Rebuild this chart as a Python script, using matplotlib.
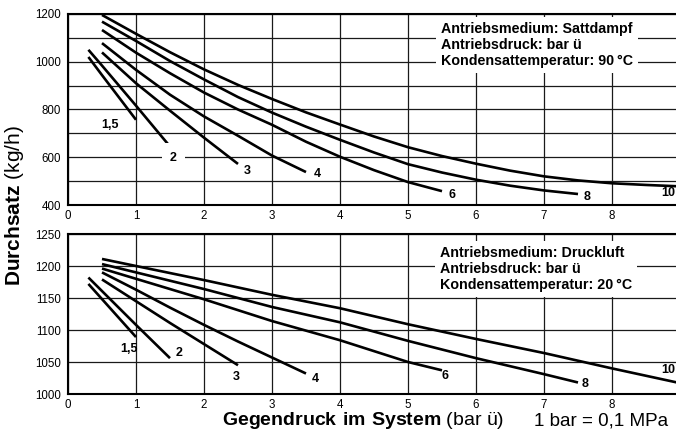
import matplotlib
matplotlib.use("Agg")
import matplotlib.pyplot as plt
from matplotlib.ticker import MultipleLocator

plt.rcParams['font.family'] = ['Liberation Sans', 'DejaVu Sans']
plt.rcParams['mathtext.fontset'] = 'custom'
plt.rcParams['mathtext.rm'] = 'Liberation Sans'
plt.rcParams['mathtext.bf'] = 'Liberation Sans:bold'

# --- Sattdampf (oben), Durchsatz in kg/h ueber Gegendruck in bar
dampf_15_x = [0.3, 0.5, 1.0]
dampf_15_y = [1020, 944, 757]
dampf_2_x = [0.3, 0.5, 1.0, 1.5]
dampf_2_y = [1050, 984, 816, 645]
dampf_3_x = [0.5, 1.0, 1.5, 2.0, 2.5]
dampf_3_y = [1039, 910, 795, 682, 572]
dampf_4_x = [0.5, 1.0, 1.5, 2.0, 2.5, 3.0, 3.5]
dampf_4_y = [1078, 966, 862, 771, 690, 607, 538]
dampf_6_x = [0.5, 1.0, 1.5, 2.0, 2.5, 3.0, 3.5, 4.0, 4.5, 5.0, 5.5]
dampf_6_y = [1133, 1038, 952, 871, 800, 736, 665, 602, 546, 496, 458]
dampf_8_x = [0.5, 1.0, 1.5, 2.0, 2.5, 3.0, 3.5, 4.0, 4.5, 5.0, 5.5, 6.0, 6.5, 7.0, 7.5]
dampf_8_y = [1168, 1087, 1003, 926, 852, 787, 728, 673, 620, 571, 536, 506, 481, 461, 446]
dampf_10_x = [0.5, 1.0, 1.5, 2.0, 2.5, 3.0, 3.5, 4.0, 4.5, 5.0, 5.5, 6.0, 6.5, 7.0, 7.5, 8.0, 8.5, 9.0]
dampf_10_y = [1196, 1117, 1040, 968, 903, 844, 788, 737, 687, 642, 605, 573, 544, 520, 503, 491, 484, 478]

# --- Druckluft (unten)
luft_15_x = [0.3, 1.0]
luft_15_y = [1172, 1089]
luft_2_x = [0.3, 1.0, 1.5]
luft_2_y = [1182, 1108, 1056]
luft_3_x = [0.5, 1.0, 1.5, 2.0, 2.5]
luft_3_y = [1179, 1145, 1111, 1078, 1045]
luft_4_x = [0.5, 1.0, 1.5, 2.0, 2.5, 3.0, 3.5]
luft_4_y = [1190, 1163, 1135, 1108, 1082, 1057, 1032]
luft_6_x = [0.5, 1.0, 2.0, 3.0, 4.0, 5.0, 5.5]
luft_6_y = [1196, 1180, 1148, 1114, 1084, 1050, 1037]
luft_8_x = [0.5, 1.0, 2.0, 3.0, 4.0, 5.0, 6.0, 7.0, 7.5]
luft_8_y = [1203, 1190, 1164, 1136, 1112, 1083, 1056, 1031, 1018]
luft_10_x = [0.5, 1.0, 2.0, 3.0, 4.0, 5.0, 6.0, 7.0, 8.0, 9.0]
luft_10_y = [1211, 1200, 1178, 1155, 1134, 1109, 1086, 1064, 1040, 1017]

curve_names = ["1,5", "2", "3", "4", "6", "8", "10"]
dampf_curves = [(dampf_15_x, dampf_15_y), (dampf_2_x, dampf_2_y), (dampf_3_x, dampf_3_y),
                (dampf_4_x, dampf_4_y), (dampf_6_x, dampf_6_y), (dampf_8_x, dampf_8_y),
                (dampf_10_x, dampf_10_y)]
luft_curves = [(luft_15_x, luft_15_y), (luft_2_x, luft_2_y), (luft_3_x, luft_3_y),
               (luft_4_x, luft_4_y), (luft_6_x, luft_6_y), (luft_8_x, luft_8_y),
               (luft_10_x, luft_10_y)]

dampf_info = "Antriebsmedium: Sattdampf\nAntriebsdruck: bar ü\nKondensattemperatur: 90\u2009°C"
luft_info = "Antriebsmedium: Druckluft\nAntriebsdruck: bar ü\nKondensattemperatur: 20\u2009°C"

W, H = 676, 448
fig = plt.figure(figsize=(W / 100, H / 100), dpi=100)
ax1 = fig.add_axes([68 / W, 1 - 205 / H, 612 / W, 191 / H])
ax2 = fig.add_axes([68 / W, 1 - 394 / H, 612 / W, 160 / H])


def style(ax, ylo, yhi, major, minor):
    ax.set_xlim(0, 9)
    ax.set_ylim(ylo, yhi)
    ax.set_xticks(range(0, 9))
    ax.yaxis.set_major_locator(MultipleLocator(major))
    ax.yaxis.set_minor_locator(MultipleLocator(minor))
    ax.grid(which='both', color='#1a1a1a', lw=0.9)
    ax.set_axisbelow(True)
    ax.tick_params(which='both', length=0, labelsize=8.3)
    ax.tick_params(axis='x', pad=3.5)
    ax.tick_params(axis='y', pad=5)
    for s in ax.spines.values():
        s.set_linewidth(1.5)


style(ax1, 400, 1200, 200, 100)
style(ax2, 1000, 1250, 50, 50)

for x, y in dampf_curves:
    ax1.plot(x, y, color='black', lw=1.9, solid_capstyle='butt')
for x, y in luft_curves:
    ax2.plot(x, y, color='black', lw=1.9, solid_capstyle='butt')

# Kurvenbeschriftungen
lab_kw = dict(fontsize=9, fontweight='bold', ha='center', va='center')
dampf_pos = [(0.62, 735), (1.55, 598), (2.63, 544), (3.66, 530), (5.65, 442), (7.63, 432), (8.83, 449)]
for name, (px, py) in zip(curve_names, dampf_pos):
    if name == "2":
        ax1.text(px, py, name, bbox=dict(facecolor='white', edgecolor='none', pad=6), **lab_kw)
    else:
        ax1.text(px, py, name, **lab_kw)
luft_pos = [(0.90, 1070), (1.63, 1064), (2.47, 1026), (3.63, 1024), (5.55, 1028), (7.60, 1016), (8.83, 1037)]
for name, (px, py) in zip(curve_names, luft_pos):
    ax2.text(px, py, name, **lab_kw)

box = dict(facecolor='white', edgecolor='none', boxstyle='square,pad=0.35')
ax1.text(5.49, 1168, dampf_info, fontsize=10.3, fontweight='bold', ha='left', va='top',
         linespacing=1.22, bbox=box)
ax2.text(5.47, 1232, luft_info, fontsize=10.3, fontweight='bold', ha='left', va='top',
         linespacing=1.22, bbox=box)

# Achsenbeschriftungen
fig.text(15 / W, 1 - 206 / H, r"$\mathbf{Durchsatz}$ (kg/h)", rotation=90,
         ha='center', va='center', fontsize=15)
fig.text(363 / W, 1 - 425 / H, r"$\mathbf{Gegendruck\ im\ System}$ (bar ü)",
         ha='center', va='baseline', fontsize=14)
fig.text(534 / W, 1 - 425 / H, "1 bar = 0,1 MPa", ha='left', va='baseline', fontsize=13.6)

fig.savefig("out.png", dpi=100)
